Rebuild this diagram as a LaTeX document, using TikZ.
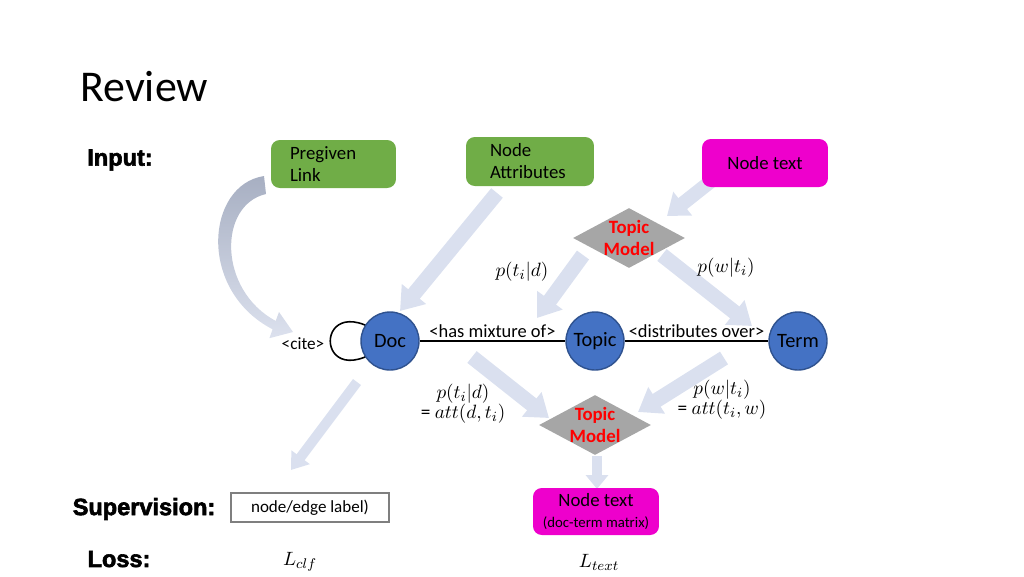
\documentclass[tikz,border=0pt]{standalone}
\usepackage{fontspec}
\setmainfont{Carlito}
\newfontfamily\blk[FakeBold=2.5]{Liberation Sans}
\usetikzlibrary{arrows.meta,shapes.geometric,backgrounds}
\definecolor{grn}{HTML}{70AD47}
\definecolor{mag}{HTML}{EE00CC}
\definecolor{nblue}{HTML}{4472C4}
\definecolor{nbord}{HTML}{2F528F}
\definecolor{tmgray}{HTML}{A6A6A6}
\definecolor{arr}{HTML}{DAE0EF}
\definecolor{carrA}{HTML}{A7AFC2}
\definecolor{carrB}{HTML}{DCE1EE}
\definecolor{boxgray}{HTML}{7F7F7F}
\tikzset{
  lbl/.style={font=\fontsize{10.7}{12.5}\selectfont},
  hdr/.style={font=\blk\bfseries\fontsize{13.4}{16}\selectfont, inner sep=0pt},
  gbox/.style={rectangle, rounded corners=5pt, fill=grn, minimum height=0.96cm, inner ysep=0.5pt, align=left, lbl},
  mbox/.style={rectangle, rounded corners=5pt, fill=mag, inner ysep=0.5pt, align=center, lbl},
  tm/.style={diamond, fill=tmgray, inner sep=0pt, minimum width=2.24cm, minimum height=1.2cm},
  tmtext/.style={text=red, font=\bfseries\fontsize{10.7}{12.5}\selectfont, align=center, inner sep=0pt},
  circ/.style={circle, fill=nblue, draw=nbord, line width=0.8pt, minimum size=1.16cm, inner sep=0pt, font=\fontsize{11.6}{13}\selectfont},
  mth/.style={font=\fontsize{11}{11.3}\selectfont, inner sep=0pt},
  sbox/.style={rectangle, draw=boxgray, line width=0.8pt, minimum width=3.16cm, minimum height=0.58cm, font=\fontsize{9.7}{11}\selectfont},
  edge/.style={line width=1pt},
  barrow/.style n args={3}{draw=arr, line width=#1, -{Triangle[length=#2, width=#3]}}
}
\begin{document}
\begin{tikzpicture}[x=0.02cm,y=-0.02cm]
\useasboundingbox (0,0) rectangle (1024,576);

% titles and headers
\node[font=\fontsize{25}{30}\selectfont, anchor=base west, inner sep=0pt] (title) at (80,101) {Review};
\node[hdr] (inp) at (120,160) {Input:};
\node[hdr] (sup) at (144,509) {Supervision:};
\node[hdr] (loss) at (119,559) {Loss:};

% input boxes
\node[gbox, minimum width=2.5cm, text width=1.74cm, inner xsep=0.38cm] (pl) at (333.5,164) {Pregiven\\Link};
\node[gbox, minimum width=2.56cm, text width=1.6cm, inner xsep=0.48cm, minimum height=0.98cm] (na) at (530,161.5) {Node\\Attributes};
\node[mbox, minimum width=2.52cm, minimum height=0.96cm] (nt) at (765,163) {Node text};

% topic model (top)
\node[tm] (tm1) at (629,238) {};
\node[tmtext] (tm1t) at (tm1) {Topic\\Model};

% graph nodes
\node[circ] (doc) at (390,341) {Doc};
\node[circ] (topic) at (595,341) {Topic};
\node[circ] (term) at (798,341) {Term};
\node[font=\fontsize{9.8}{11}\selectfont, inner sep=0pt] (cite) at (303,344) {<cite>};

\draw[edge] (doc) -- (topic) node[midway, above, inner sep=1.5pt, font=\fontsize{10.5}{12}\selectfont] (hm) {<has mixture of>};
\draw[edge] (topic) -- (term) node[midway, above, inner sep=1.5pt, font=\fontsize{10.5}{12}\selectfont] (dov) {<distributes over>};

% probability labels
\node[mth] (p1) at (522,272) {$p(t_i|d)$};
\node[mth] (p2) at (726,268) {$p(w|t_i)$};
\node[mth, align=center] (p3) at (463,404) {$p(t_i|d)$\\= $att(d,t_i)$};
\node[mth, align=center] (p4) at (722,400) {$p(w|t_i)$\\= $att(t_i,w)$};

% topic model (bottom)
\node[tm] (tm2) at (595,425) {};
\node[tmtext] (tm2t) at (tm2) {Topic\\Model};

% outputs
\node[mbox, minimum width=2.52cm, minimum height=0.94cm] (nt2) at (596,511.5) {Node text\\[-1pt]{\fontsize{8.4}{10}\selectfont(doc-term matrix)}};
\node[sbox] (sl) at (310,507.5) {node/edge label)};
\node[mth] (lc) at (300,562) {$L_{clf}$};
\node[mth] (lt) at (599,562) {$L_{text}$};

% block arrows and loop behind everything
\begin{scope}[on background layer]
  \coordinate (a1s) at (497,193); \coordinate (a1e) at (400,311);
  \coordinate (a2s) at (715,178); \coordinate (a2e) at (667,216);
  \coordinate (a3s) at (583,255); \coordinate (a3e) at (537,318);
  \coordinate (a4s) at (662,255); \coordinate (a4e) at (752,326);
  \coordinate (a5s) at (357,382); \coordinate (a5e) at (291,470);
  \coordinate (a6s) at (472,357); \coordinate (a6e) at (549,418);
  \coordinate (a7s) at (724,358); \coordinate (a7e) at (638,412);
  \coordinate (a8s) at (597,456); \coordinate (a8e) at (597,489);
  \draw[barrow={0.3cm}{0.44cm}{0.6cm}] (a1s) -- (a1e);
  \draw[barrow={0.28cm}{0.4cm}{0.58cm}] (a2s) -- (a2e);
  \draw[barrow={0.3cm}{0.44cm}{0.6cm}] (a3s) -- (a3e);
  \draw[barrow={0.3cm}{0.44cm}{0.6cm}] (a4s) -- (a4e);
  \draw[barrow={0.2cm}{0.32cm}{0.44cm}] (a5s) -- (a5e);
  \draw[barrow={0.3cm}{0.44cm}{0.6cm}] (a6s) -- (a6e);
  \draw[barrow={0.3cm}{0.44cm}{0.6cm}] (a7s) -- (a7e);
  \draw[barrow={0.2cm}{0.28cm}{0.44cm}] (a8s) -- (a8e);
  % curved, tapering arrow from Pregiven Link to cite
  \shade[top color=carrA, bottom color=carrB]
    (264,176) .. controls (206,185) and (197,290) .. (272.6,329.3)
    -- (269.4,338.2) -- (293,332) -- (279,312) -- (275.7,320.9)
    .. controls (218,290) and (218,205) .. (266,194) -- cycle;
  \draw[line width=0.9pt] (doc.center) .. controls +(140:104) and +(220:104) .. (doc.center);
\end{scope}
\end{tikzpicture}
\end{document}
